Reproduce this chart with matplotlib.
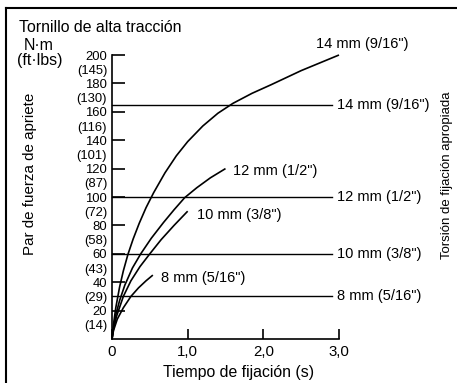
import matplotlib
matplotlib.use("Agg")
import matplotlib.pyplot as plt
from matplotlib.lines import Line2D

plt.rcParams["font.family"] = ["Liberation Sans", "DejaVu Sans"]

# ------------------------------------------------------------------
# Data
# ------------------------------------------------------------------
bolt_labels = ['14 mm (9/16")', '12 mm (1/2")', '10 mm (3/8")', '8 mm (5/16")']

time_14 = [0, 0.02, 0.05, 0.1, 0.15, 0.21, 0.28, 0.36, 0.45, 0.55, 0.7, 0.85,
           1.0, 1.2, 1.4, 1.6, 1.85, 2.1, 2.5, 3.0]
torque_14 = [0, 10.5, 22, 36.5, 48, 59.5, 70.5, 81.5, 92.5, 103, 117, 129,
             139, 150, 159, 166, 173, 179, 189, 200]

time_12 = [0, 0.02, 0.05, 0.1, 0.17, 0.27, 0.38, 0.52, 0.68, 0.82, 0.96, 1.12, 1.3, 1.5]
torque_12 = [0, 8, 17, 27, 38, 50, 60, 71, 82, 91, 99.5, 106.5, 113.5, 120]

time_10 = [0, 0.02, 0.06, 0.15, 0.25, 0.37, 0.5, 0.65, 0.82, 1.0]
torque_10 = [0, 7, 16, 30, 41, 51, 60, 70, 80, 90]

time_8 = [0, 0.02, 0.07, 0.15, 0.25, 0.35, 0.45, 0.54]
torque_8 = [0, 6, 14, 22, 30, 36, 41, 45]

curves = [(time_14, torque_14), (time_12, torque_12), (time_10, torque_10), (time_8, torque_8)]

# appropriate fastening torque per bolt size (N·m)
proper_torque = [165, 100, 60, 30]

# curve end label anchors (time, torque)
label_time = [2.69, 1.60, 1.12, 0.65]
label_torque = [208, 118, 87, 43]

y_major = [20, 40, 60, 80, 100, 120, 140, 160, 180, 200]
y_minor = [10, 30, 50, 70, 90, 110, 130, 150, 170, 190]
y_minor_labels = ["(14)", "(29)", "(43)", "(58)", "(72)", "(87)", "(101)", "(116)", "(130)", "(145)"]
x_ticks = [0, 1, 2, 3]
x_tick_labels = ["0", "1,0", "2,0", "3,0"]

# ------------------------------------------------------------------
W, H = 457, 383
fig = plt.figure(figsize=(W / 100, H / 100), dpi=100)


def px(x, y):
    return x / W, 1 - y / H


x0, y_top = px(112, 55)
x1, y_bot = px(339, 339)
ax = fig.add_axes([x0, y_bot, x1 - x0, y_top - y_bot])
ax.set_xlim(0, 3)
ax.set_ylim(0, 200)

for t, q in curves:
    ax.plot(t, q, color="black", lw=1.2, clip_on=False, solid_capstyle="butt")

for q, lab in zip(proper_torque, bolt_labels):
    ax.plot([0, 2.91], [q, q], color="black", lw=1.0, clip_on=False)
    ax.text(2.97, q, lab, ha="left", va="center", fontsize=10.5, clip_on=False)

for t, q, lab in zip(label_time, label_torque, bolt_labels):
    ax.text(t, q, lab, ha="left", va="center", fontsize=10.5, clip_on=False)

ax.spines["top"].set_visible(False)
ax.spines["right"].set_visible(False)
for sp in ("left", "bottom"):
    ax.spines[sp].set_linewidth(1.2)

ax.set_yticks(y_major)
ax.set_yticks(y_minor, minor=True)
ax.set_yticklabels([str(v) for v in y_major])
ax.set_yticklabels(y_minor_labels, minor=True)
ax.tick_params(axis="y", which="both", labelsize=9.4)
ax.tick_params(axis="y", which="major", direction="in", length=9.5, width=1.2, pad=3.5)
ax.tick_params(axis="y", which="minor", direction="in", length=0, pad=3.5)

ax.set_xticks(x_ticks)
ax.set_xticklabels(x_tick_labels)
ax.tick_params(axis="x", direction="in", length=7.5, width=1.2, pad=4, labelsize=10.8)

# outside texts
fig.text(*px(19, 27), "Tornillo de alta tracción", ha="left", va="center", fontsize=11.4)
fig.text(*px(39, 45), "N·m", ha="center", va="center", fontsize=11.5)
fig.text(*px(40, 61), "(ft·lbs)", ha="center", va="center", fontsize=11.5)
fig.text(*px(30, 174), "Par de fuerza de apriete", rotation=90,
         ha="center", va="center", fontsize=10.9)
fig.text(*px(447, 175), "Torsión de fijación apropiada", rotation=90,
         ha="center", va="center", fontsize=9.5)
fig.text(*px(239, 373), "Tiempo de fijación (s)", ha="center", va="center", fontsize=11.4)

# frame (clipped at right/bottom in the original)
fig.add_artist(Line2D([6 / W, 6 / W], [0, 1 - 8 / H], color="black", lw=1.5))
fig.add_artist(Line2D([6 / W, 1], [1 - 8 / H, 1 - 8 / H], color="black", lw=1.5))

fig.savefig("out.png", dpi=100)
